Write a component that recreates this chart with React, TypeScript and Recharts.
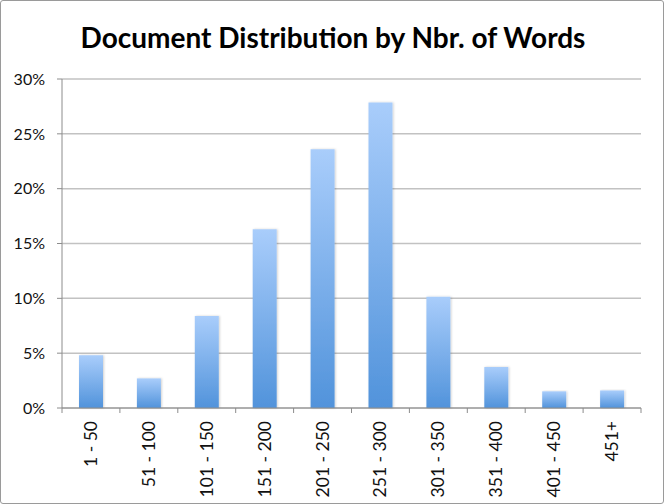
import React from "react";
import { BarChart, Bar, XAxis, YAxis, CartesianGrid } from "recharts";

const categories = ["1 - 50", "51 - 100", "101 - 150", "151 - 200", "201 - 250", "251 - 300", "301 - 350", "351 - 400", "401 - 450", "451+"];
const shares = [4.8, 2.7, 8.4, 16.3, 23.6, 27.85, 10.15, 3.75, 1.52, 1.6];
const yTicks = [0, 5, 10, 15, 20, 25, 30];

const data = categories.map((c, i) => ({ cat: c, share: shares[i] }));

const W = 664;
const H = 504;
const M = { top: 79, right: 23, left: 0, bottom: 0 };
const Y_W = 62;
const X_H = 96;
const FONT = "Lato, 'DejaVu Sans', sans-serif";

const plotW = W - M.left - M.right - Y_W;
const band = plotW / categories.length;

const XTick = (props: any) => {
  const { x, y, payload, index } = props;
  const left = x - band / 2;
  const right = x + band / 2;
  return (
    <g>
      <line x1={left} y1={y} x2={left} y2={y + 5} stroke="#8c8c8c" strokeWidth={1} />
      {index === categories.length - 1 && (
        <line x1={right} y1={y} x2={right} y2={y + 5} stroke="#8c8c8c" strokeWidth={1} />
      )}
      <text
        x={0}
        y={0}
        transform={`translate(${x + 6},${y + 13}) rotate(-90)`}
        textAnchor="end"
        fontSize={17.5}
        fontFamily={FONT}
        fill="#111"
      >
        {payload.value}
      </text>
    </g>
  );
};

export default function App() {
  return (
    <div
      style={{
        position: "absolute",
        left: 0,
        top: 0,
        width: W,
        height: H,
        background: "#fff",
        border: "1px solid #9a9a9a",
        boxSizing: "border-box",
        borderRadius: 3,
      }}
    >
      <div
        style={{
          position: "absolute",
          left: 0,
          top: 19,
          width: W,
          textAlign: "center",
          fontFamily: FONT,
          fontWeight: 700,
          fontSize: 28,
          color: "#000",
          whiteSpace: "nowrap",
        }}
      >
        Document Distribution by Nbr. of Words
      </div>
      <div style={{ position: "absolute", left: -1, top: -1 }}>
        <BarChart width={W} height={H} data={data} margin={M} barCategoryGap="0%">
          <defs>
            <linearGradient id="barGrad" x1="0" y1="0" x2="0" y2="1">
              <stop offset="0%" stopColor="#a9cdfb" />
              <stop offset="100%" stopColor="#5193db" />
            </linearGradient>
            <filter id="sh" x="-20%" y="-5%" width="140%" height="110%">
              <feDropShadow dx="1" dy="0" stdDeviation="1" floodColor="#000" floodOpacity="0.18" />
            </filter>
          </defs>
          <CartesianGrid vertical={false} stroke="#c2c2c2" strokeWidth={1.5} />
          <YAxis
            width={Y_W}
            domain={[0, 30]}
            ticks={yTicks}
            interval={0}
            tickFormatter={(v: number) => `${v}%`}
            axisLine={{ stroke: "#8c8c8c" }}
            tickLine={{ stroke: "#8c8c8c" }}
            tickSize={5}
            tickMargin={12}
            tick={{ fontSize: 16, fontFamily: FONT, fill: "#111" }}
          />
          <XAxis
            dataKey="cat"
            height={X_H}
            interval={0}
            axisLine={{ stroke: "#8c8c8c" }}
            tickLine={false}
            tickSize={0}
            tickMargin={0}
            tick={<XTick />}
          />
          <Bar dataKey="share" fill="url(#barGrad)" barSize={24} isAnimationActive={false} filter="url(#sh)" />
        </BarChart>
      </div>
    </div>
  );
}
